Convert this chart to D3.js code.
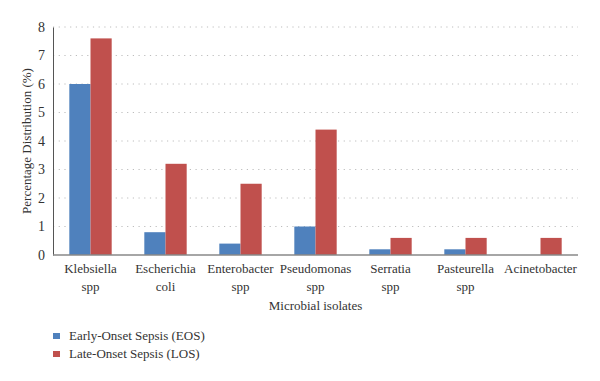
<!DOCTYPE html>
<html><head><meta charset="utf-8">
<script src="https://cdn.jsdelivr.net/npm/d3@7"></script>
<style>body{margin:0;background:#fff}svg{display:block}text{font-family:"Liberation Serif","DejaVu Serif",serif;fill:#333}</style>
</head><body><svg id="c" width="600" height="381"></svg>
<script>
const categories = [["Klebsiella","spp"],["Escherichia","coli"],["Enterobacter","spp"],["Pseudomonas","spp"],["Serratia","spp"],["Pasteurella","spp"],["Acinetobacter"]];
const eosValues = [6, 0.8, 0.4, 1.0, 0.2, 0.2, 0];
const losValues = [7.6, 3.2, 2.5, 4.4, 0.6, 0.6, 0.6];
const seriesNames = ["Early-Onset Sepsis (EOS)", "Late-Onset Sepsis (LOS)"];
const yTicks = [0,1,2,3,4,5,6,7,8];
const colors = ["#4F81BD", "#C0504D"];

const svg = d3.select("#c");
const m = {l:53, r:22, t:27, b:126};
const W = 600, H = 381;
const x = d3.scaleBand().domain(d3.range(categories.length)).range([m.l, W-m.r]).paddingInner(0.435).paddingOuter(0.2175);
const xs = d3.scaleBand().domain([0,1]).range([0, x.bandwidth()]);
const y = d3.scaleLinear().domain([0,8]).range([H-m.b, m.t]);

// gridlines
svg.append("g").selectAll("line").data(yTicks.slice(1)).join("line")
  .attr("x1", m.l).attr("x2", W-m.r).attr("y1", d=>y(d)).attr("y2", d=>y(d))
  .attr("stroke","#bdbdbd").attr("stroke-dasharray","1.2,4.5");

const series = [eosValues, losValues];
series.forEach((vals, si) => {
  svg.append("g").selectAll("rect").data(vals).join("rect")
    .attr("x", (d,i)=>x(i)+xs(si)).attr("width", xs.bandwidth())
    .attr("y", d=>y(d)).attr("height", d=>y(0)-y(d)).attr("fill", colors[si]);
});

// y axis
const ya = svg.append("g").attr("transform",`translate(${m.l},0)`).call(d3.axisLeft(y).tickValues(yTicks).tickSize(0).tickPadding(8));
ya.select(".domain").attr("stroke","#555");
ya.selectAll("text").style("font-size","14px").style("font-family","Liberation Serif").attr("fill","#333");
// x axis line
svg.append("line").attr("x1",m.l).attr("x2",W-m.r).attr("y1",y(0)).attr("y2",y(0)).attr("stroke","#888").attr("stroke-width",1.5);

// category labels
const cl = svg.append("g").selectAll("text").data(categories).join("text")
  .attr("text-anchor","middle").style("font-size","13px");
cl.each(function(d,i){
  const t = d3.select(this);
  d.forEach((s,j)=>t.append("tspan").attr("x", x(i)+x.bandwidth()/2).attr("y", y(0)+18+j*18).text(s));
});

svg.append("text").attr("x", (m.l+W-m.r)/2).attr("y", 310).attr("text-anchor","middle").style("font-size","13px").text("Microbial isolates");
svg.append("text").attr("transform",`translate(31,${(m.t+y(0))/2}) rotate(-90)`).attr("text-anchor","middle").style("font-size","13px").text("Percentage Distribution (%)");

// legend
const lg = svg.append("g").selectAll("g").data(seriesNames).join("g").attr("transform",(d,i)=>`translate(53,${333+i*18})`);
lg.append("rect").attr("width",7).attr("height",6).attr("fill",(d,i)=>colors[i]);
lg.append("text").attr("x",16).attr("y",7).style("font-size","13px").text(d=>d);
</script></body></html>
